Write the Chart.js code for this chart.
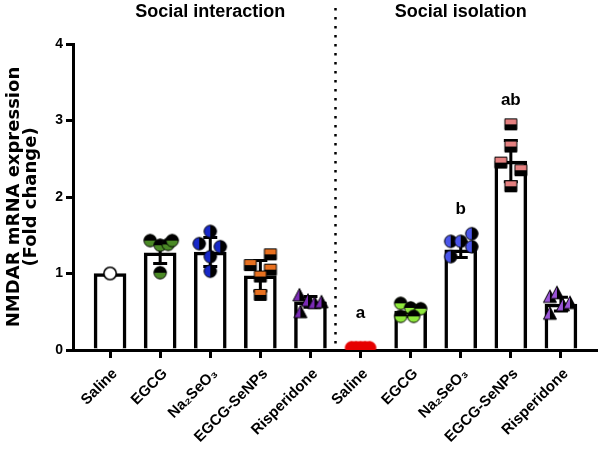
<!DOCTYPE html>
<html>
<head>
<meta charset="utf-8">
<script src="https://cdn.jsdelivr.net/npm/chart.js@4.4.1/dist/chart.umd.min.js"></script>
<style>
  html, body { margin: 0; padding: 0; background: #fff; }
  #wrap { width: 601px; height: 451px; }
</style>
</head>
<body>
<div id="wrap"><canvas id="nmdarChart" width="601" height="451"></canvas></div>
<script>
var categories = ["Saline", "EGCG", "Na\u2082SeO\u2083", "EGCG-SeNPs", "Risperidone",
                  "Saline", "EGCG", "Na\u2082SeO\u2083", "EGCG-SeNPs", "Risperidone"];
var groupTitles = ["Social interaction", "Social isolation"];
var meanValues = [1.0, 1.27, 1.28, 0.97, 0.63, 0.02, 0.51, 1.31, 2.47, 0.6];
var sdValues = [0, 0.14, 0.19, 0.2, 0.07, 0.01, 0.07, 0.1, 0.27, 0.09];
var pointValues = [
  [1.0],
  [1.43, 1.37, 1.38, 1.43, 1.01],
  [1.55, 1.39, 1.35, 1.22, 1.03],
  [1.25, 1.11, 1.05, 0.96, 0.72],
  [0.72, 0.65, 0.62, 0.63, 0.5],
  [0.03, 0.03, 0.03, 0.03, 0.03],
  [0.61, 0.55, 0.54, 0.44, 0.44],
  [1.42, 1.42, 1.52, 1.35, 1.22],
  [2.95, 2.66, 2.45, 2.35, 2.14],
  [0.7, 0.75, 0.59, 0.62, 0.48]
];
var sigLetters = ["", "", "", "", "", "a", "", "b", "ab", ""];
var yTicks = [0, 1, 2, 3, 4];

// horizontal spread of the dots inside each bar (category units)
var jitter = [
  [0],
  [-0.2, 0, 0.16, 0.24, 0],
  [0, -0.22, 0.2, 0, 0],
  [0.2, -0.2, 0.2, 0, 0],
  [-0.22, -0.05, 0.08, 0.22, -0.2],
  [-0.18, -0.09, 0, 0.09, 0.18],
  [-0.2, 0, 0.2, 0.06, -0.2],
  [-0.2, 0, 0.22, 0.22, -0.2],
  [0, 0, -0.2, 0.2, 0],
  [-0.22, -0.08, 0.04, 0.18, -0.22]
];

// marker look for each bar: shape, colour, which half is black, outline colour
var markerStyles = [
  ["circle", "#ffffff", null, "#000000"],
  ["circle", "#4b8a26", "top", "#000000"],
  ["circle", "#1728c9", "right", "#000000"],
  ["rect", "#e8701f", "bottom", "#000000"],
  ["triangle", "#7a2bb5", "right", "#000000"],
  ["circle", "#e60000", null, "#e60000"],
  ["circle", "#8ee83c", "top", "#000000"],
  ["circle", "#4a55ea", "right", "#000000"],
  ["rect", "#e58080", "bottom", "#000000"],
  ["triangle", "#9b55d8", "right", "#000000"]
];

function makeMarker(shape, color, half, edge) {
  var s = 16;
  var c = document.createElement("canvas");
  c.width = s;
  c.height = s;
  var ctx = c.getContext("2d");
  function path() {
    ctx.beginPath();
    if (shape === "circle") {
      ctx.arc(8, 8, 6.2, 0, Math.PI * 2);
    } else if (shape === "rect") {
      ctx.rect(2, 2.5, 12, 11);
    } else {
      ctx.moveTo(8, 1.5);
      ctx.lineTo(14.5, 14);
      ctx.lineTo(1.5, 14);
      ctx.closePath();
    }
  }
  path();
  ctx.fillStyle = color;
  ctx.fill();
  if (half) {
    ctx.save();
    path();
    ctx.clip();
    ctx.fillStyle = "#000";
    if (half === "top") ctx.fillRect(0, 0, s, 8);
    else if (half === "bottom") ctx.fillRect(0, 8, s, 8);
    else if (half === "right") ctx.fillRect(8, 0, 8, s);
    ctx.restore();
  }
  path();
  ctx.lineWidth = shape === "circle" && !half && color === "#ffffff" ? 1.6 : 1;
  ctx.strokeStyle = edge;
  ctx.stroke();
  return c;
}

var barData = meanValues.map(function (v, i) {
  return { x: i, y: v };
});

var datasets = [
  {
    type: "bar",
    label: "Mean",
    data: barData,
    backgroundColor: "#ffffff",
    borderColor: "#000000",
    borderWidth: 3.5,
    borderSkipped: "start",
    barThickness: 32,
    order: 2
  }
];

pointValues.forEach(function (vals, i) {
  var st = markerStyles[i];
  datasets.push({
    type: "scatter",
    label: categories[i],
    data: vals.map(function (v, j) {
      return { x: i + jitter[i][j], y: v };
    }),
    pointStyle: makeMarker(st[0], st[1], st[2], st[3]),
    order: 1
  });
});

function drawErrorBars(chart) {
  var ctx = chart.ctx;
  var xs = chart.scales.x;
  var ys = chart.scales.y;
  ctx.save();
  ctx.strokeStyle = "#000";
  ctx.lineWidth = 3;
  meanValues.forEach(function (m, i) {
    var sd = sdValues[i];
    if (!sd) return;
    var px = xs.getPixelForValue(i);
    var top = ys.getPixelForValue(m + sd);
    var bot = ys.getPixelForValue(Math.max(m - sd, 0));
    ctx.beginPath();
    ctx.moveTo(px, top);
    ctx.lineTo(px, bot);
    ctx.moveTo(px - 7, top);
    ctx.lineTo(px + 7, top);
    ctx.moveTo(px - 7, bot);
    ctx.lineTo(px + 7, bot);
    ctx.stroke();
  });
  ctx.restore();
}

var extrasPlugin = {
  id: "extras",
  afterDatasetDraw: function (chart, args) {
    if (args.meta.type === "bar") drawErrorBars(chart);
  },
  afterDraw: function (chart) {
    var ctx = chart.ctx;
    var xs = chart.scales.x;
    var ys = chart.scales.y;
    ctx.save();
    // dotted divider between the two groups
    var dx = xs.getPixelForValue(4.5);
    ctx.strokeStyle = "#000";
    ctx.lineWidth = 2.5;
    ctx.setLineDash([2.5, 6.5]);
    ctx.beginPath();
    ctx.moveTo(dx, 8);
    ctx.lineTo(dx, chart.chartArea.bottom - 2);
    ctx.stroke();
    ctx.setLineDash([]);

    ctx.fillStyle = "#000";
    ctx.textAlign = "center";
    ctx.textBaseline = "middle";
    ctx.font = "bold 18px 'Liberation Sans', Arial, sans-serif";
    ctx.fillText(groupTitles[0], xs.getPixelForValue(2), 12);
    ctx.fillText(groupTitles[1], xs.getPixelForValue(7), 12);

    ctx.font = "bold 17px 'Liberation Sans', Arial, sans-serif";
    sigLetters.forEach(function (t, i) {
      if (!t) return;
      var top = Math.max(Math.max.apply(null, pointValues[i]), meanValues[i] + sdValues[i]);
      var yv = Math.max(top + 0.32, 0.48);
      ctx.fillText(t, xs.getPixelForValue(i), ys.getPixelForValue(yv));
    });
    ctx.restore();
  }
};

new Chart(document.getElementById("nmdarChart"), {
  type: "bar",
  data: { datasets: datasets },
  plugins: [extrasPlugin],
  options: {
    responsive: false,
    animation: false,
    layout: { padding: { top: 44, right: 3, left: 0, bottom: 0 } },
    plugins: {
      legend: { display: false },
      tooltip: { enabled: false }
    },
    scales: {
      x: {
        type: "linear",
        offset: false,
        min: -0.74,
        max: 9.7,
        afterBuildTicks: function (axis) {
          axis.ticks = categories.map(function (c, i) {
            return { value: i };
          });
        },
        afterFit: function (axis) {
          axis.height = 101;
        },
        ticks: {
          autoSkip: false,
          maxRotation: 45,
          minRotation: 45,
          color: "#000",
          padding: 7,
          labelOffset: 5,
          font: { family: "'Liberation Sans', Arial, sans-serif", size: 15, weight: "bold" },
          callback: function (v) {
            return categories[v];
          }
        },
        grid: { offset: false, drawOnChartArea: false, drawTicks: true, tickLength: 8, color: "#000", lineWidth: 3 },
        border: { display: true, color: "#000", width: 3 }
      },
      y: {
        min: 0,
        max: 4,
        afterBuildTicks: function (axis) {
          axis.ticks = yTicks.map(function (v) {
            return { value: v };
          });
        },
        afterFit: function (axis) {
          axis.width = 73;
        },
        ticks: {
          color: "#000",
          padding: 3,
          font: { family: "'Liberation Sans', Arial, sans-serif", size: 14, weight: "bold" }
        },
        grid: { drawOnChartArea: false, drawTicks: true, tickLength: 7, color: "#000", lineWidth: 3 },
        border: { display: true, color: "#000", width: 3 },
        title: {
          display: true,
          text: ["NMDAR mRNA expression", "(Fold change)"],
          color: "#000",
          padding: { top: 6, bottom: 0 },
          font: { family: "'DejaVu Sans', sans-serif", size: 18, weight: "bold", lineHeight: 0.95 }
        }
      }
    }
  }
});
</script>
</body>
</html>
